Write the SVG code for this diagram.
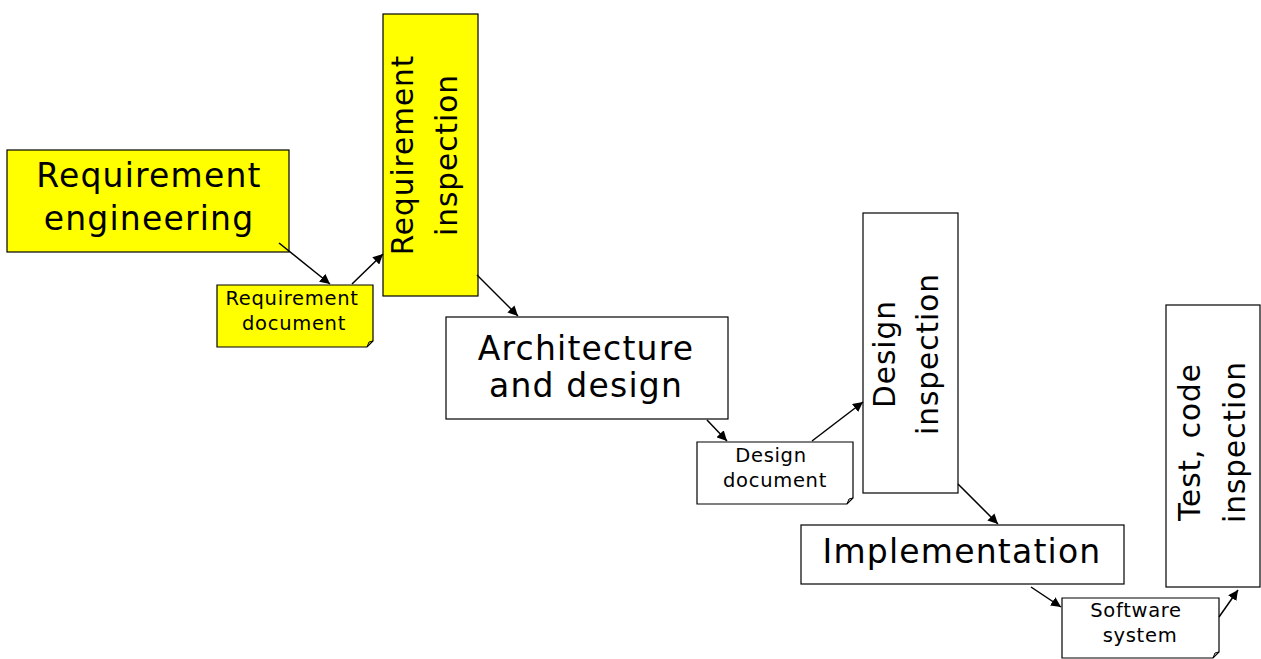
<svg xmlns="http://www.w3.org/2000/svg" width="1261" height="659" viewBox="0 0 1261 659">
<style>
.box{stroke:#000;stroke-width:1.2}
.y{fill:#ffff00}
.w{fill:#fff}
.big{font-family:"DejaVu Sans",sans-serif;font-size:33px;letter-spacing:1.2px;fill:#000;text-anchor:middle}
.vert{font-family:"DejaVu Sans",sans-serif;font-size:29.5px;letter-spacing:1px;fill:#000;text-anchor:middle}
.small{font-family:"DejaVu Sans",sans-serif;font-size:19.5px;letter-spacing:0.7px;fill:#000;text-anchor:middle}
.fold{fill:none;stroke:#000;stroke-width:1}
.con{stroke:#000;stroke-width:1.5;fill:none;marker-end:url(#ah)}
</style>
<defs>
<marker id="ah" viewBox="0 0 10 10" refX="10" refY="5" markerWidth="10" markerHeight="10" markerUnits="userSpaceOnUse" orient="auto">
<path d="M0,0 L10,5 L0,10 Z" fill="#000"/>
</marker>
</defs>
<rect width="1261" height="659" fill="#fff"/>
<g id="req-eng">
<rect class="box y" x="7" y="150" width="282" height="102"/>
<text class="big" x="149" y="187">Requirement</text>
<text class="big" x="149" y="230">engineering</text>
</g>
<g id="req-doc">
<path class="box y" d="M217,285 H373 V341 L367,347 H217 Z"/>
<path class="fold" d="M373,341 L369,342 L367,347"/>
<text class="small" x="292" y="305">Requirement</text>
<text class="small" x="294" y="330">document</text>
</g>
<g id="req-insp">
<rect class="box y" x="383" y="14" width="95" height="282"/>
<g transform="translate(430.5,155) rotate(-90)">
<text class="vert" x="0" y="-17.5">Requirement</text>
<text class="vert" x="0" y="26.5">inspection</text>
</g>
</g>
<g id="arch">
<rect class="box w" x="446" y="317" width="282" height="102"/>
<text class="big" x="586" y="360">Architecture</text>
<text class="big" x="586" y="397">and design</text>
</g>
<g id="design-doc">
<path class="box w" d="M697,442 H853 V498 L847,504 H697 Z"/>
<path class="fold" d="M853,498 L849,499 L847,504"/>
<text class="small" x="771" y="462">Design</text>
<text class="small" x="775" y="487">document</text>
</g>
<g id="design-insp">
<rect class="box w" x="863" y="213" width="95" height="280"/>
<g transform="translate(910.5,354) rotate(-90)">
<text class="vert" x="0" y="-15.5">Design</text>
<text class="vert" x="0" y="27.5">inspection</text>
</g>
</g>
<g id="impl">
<rect class="box w" x="801" y="525" width="323" height="59"/>
<text class="big" x="962" y="563">Implementation</text>
</g>
<g id="sw">
<path class="box w" d="M1062,598 H1219 V652 L1213,658 H1062 Z"/>
<path class="fold" d="M1219,652 L1215,653 L1213,658"/>
<text class="small" x="1136" y="617">Software</text>
<text class="small" x="1140" y="642">system</text>
</g>
<g id="test">
<rect class="box w" x="1166" y="305" width="94" height="282"/>
<g transform="translate(1213,442) rotate(-90)">
<text class="vert" x="0" y="-13">Test, code</text>
<text class="vert" x="0" y="32">inspection</text>
</g>
</g>
<g id="connectors">
<line class="con" x1="279" y1="243" x2="330" y2="284"/>
<line class="con" x1="352" y1="284" x2="383" y2="254"/>
<line class="con" x1="477" y1="275" x2="518" y2="316"/>
<line class="con" x1="707" y1="420" x2="727" y2="441"/>
<line class="con" x1="812" y1="441" x2="863" y2="402"/>
<line class="con" x1="958" y1="484" x2="998" y2="524"/>
<line class="con" x1="1031" y1="587" x2="1061" y2="607"/>
<line class="con" x1="1219" y1="617" x2="1238" y2="590"/>
</g>
</svg>
